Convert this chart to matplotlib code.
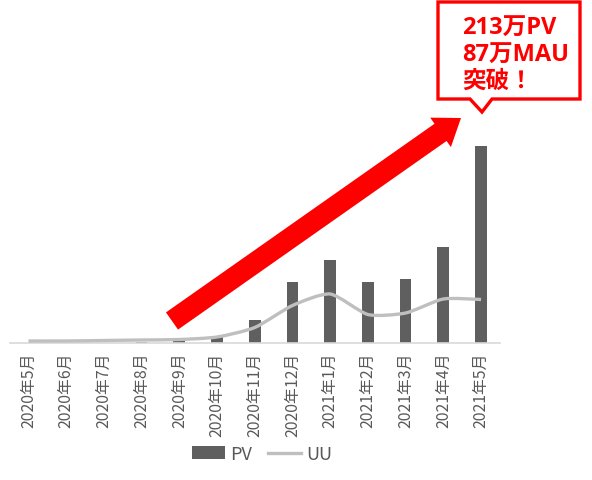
import matplotlib
matplotlib.use("Agg")
import matplotlib.pyplot as plt
from matplotlib.path import Path
from matplotlib.patches import PathPatch, Polygon, Patch, FancyArrow
from matplotlib.lines import Line2D

plt.rcParams['font.family'] = ['Noto Sans CJK JP', 'DejaVu Sans']

months = ["2020年5月", "2020年6月", "2020年7月", "2020年8月", "2020年9月",
          "2020年10月", "2020年11月", "2020年12月", "2021年1月", "2021年2月",
          "2021年3月", "2021年4月", "2021年5月"]
pv = [0.2, 0.3, 0.5, 1, 3, 8, 25, 66, 90, 66, 69, 104, 213]   # 万PV
uu = [4, 4, 5, 6, 7, 12, 31, 75, 98, 57, 60, 88, 87]          # 万UU

bar_color = "#5F5F5F"
line_color = "#BFBFBF"
text_gray = "#595959"
red = "#FF0000"


def smooth_path(x, y, k=9):
    # lightly smoothed line, bezier through the points
    verts = [(x[0], y[0])]
    codes = [Path.MOVETO]
    n = len(x)
    for i in range(n - 1):
        x0, y0 = (x[i - 1], y[i - 1]) if i > 0 else (x[i], y[i])
        x3, y3 = (x[i + 2], y[i + 2]) if i + 2 < n else (x[i + 1], y[i + 1])
        c1 = (x[i] + (x[i + 1] - x0) / k, y[i] + (y[i + 1] - y0) / k)
        c2 = (x[i + 1] - (x3 - x[i]) / k, y[i + 1] - (y3 - y[i]) / k)
        verts += [c1, c2, (x[i + 1], y[i + 1])]
        codes += [Path.CURVE4] * 3
    return Path(verts, codes)


W, H = 592, 481
fig = plt.figure(figsize=(W / 100, H / 100), dpi=100)
ax = fig.add_axes([9.6 / W, (H - 344) / H, 490.3 / W, 324 / H])

xs = list(range(len(months)))
ax.bar(xs, pv, width=0.31, color=bar_color, zorder=2)
ax.set_xlim(-0.5, len(months) - 0.5)
ax.set_ylim(0, 350)
ax.set_yticks([])
ax.set_xticks(xs)
ax.set_xticklabels(months, rotation=90, fontsize=11.4, color=text_gray)
ax.tick_params(axis='x', length=0, pad=6)
for s in ["top", "right", "left"]:
    ax.spines[s].set_visible(False)
ax.spines["bottom"].set_color("#D9D9D9")
ax.spines["bottom"].set_linewidth(1.2)

ax2 = ax.twinx()
ax2.set_ylim(0, 648)
ax2.add_patch(PathPatch(smooth_path(xs, uu), fill=False, edgecolor=line_color,
                        lw=2.4, joinstyle='round', capstyle='butt'))
ax2.set_yticks([])
for s in ax2.spines.values():
    s.set_visible(False)

handles = [Patch(facecolor=bar_color, edgecolor='none'),
           Line2D([0], [0], color=line_color, lw=2.4)]
fig.legend(handles, ["PV", "UU"], loc="center", bbox_to_anchor=(262 / W, 1 - 455 / H),
           ncol=2, frameon=False, fontsize=13, labelcolor=text_gray,
           handlelength=1.8, handletextpad=0.3, columnspacing=0.9)

# overlay in pixel coords for the arrow and callout
ov = fig.add_axes([0, 0, 1, 1], zorder=5)
ov.set_xlim(0, W)
ov.set_ylim(H, 0)
ov.axis("off")
ov.patch.set_visible(False)

ov.add_patch(FancyArrow(172, 322, 461 - 172, 119 - 322, width=21, head_width=36,
                        head_length=25, length_includes_head=True,
                        color=red, lw=0))

callout = [(438, 3), (580, 3), (580, 100), (492, 100), (482, 113), (470, 100), (438, 100)]
ov.add_patch(Polygon(callout, closed=True, facecolor="white", edgecolor=red, lw=2.4))
for yb, txt in zip([35, 62, 88], ["213万PV", "87万MAU", "突破！"]):
    ov.text(462, yb, txt, color=red, fontsize=17, fontweight="bold", va="baseline", ha="left",
            family=['Open Sans', 'Noto Sans CJK JP'])

fig.savefig("out.png", dpi=100)
